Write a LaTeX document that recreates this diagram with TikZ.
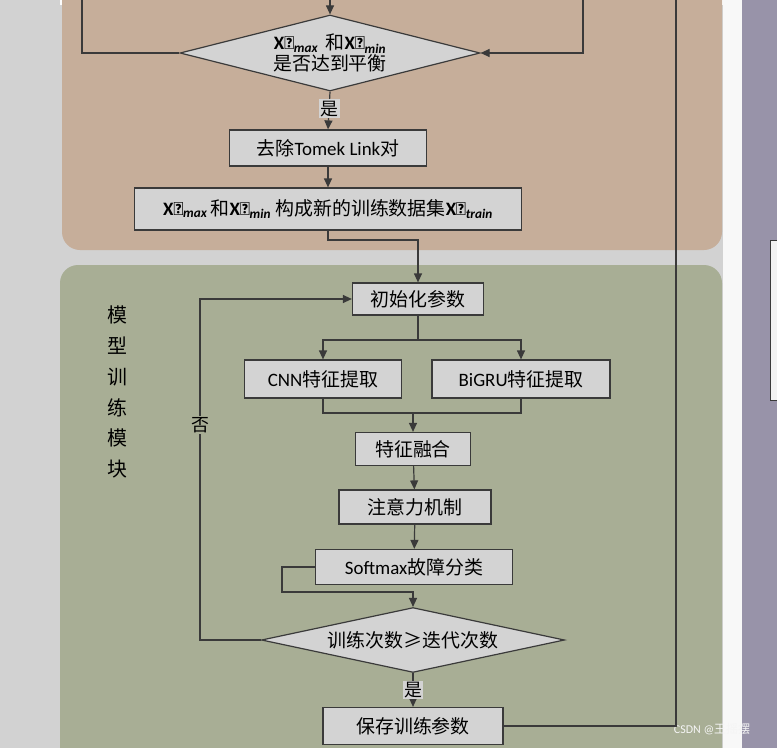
\documentclass[tikz,border=0pt]{standalone}
\usepackage{amsmath}
\usepackage{fontspec}
\setmainfont{Carlito}
\newfontfamily\cjk{Noto Sans CJK SC}
\usetikzlibrary{shapes.geometric,arrows.meta}
\definecolor{bgg}{HTML}{D2D2D2}
\definecolor{orp}{HTML}{C6AE9A}
\definecolor{grp}{HTML}{A8AE95}
\definecolor{pur}{HTML}{9893A9}
\definecolor{boxf}{HTML}{D3D3D3}
\definecolor{ln}{HTML}{3A3A3A}
\newcommand{\mX}[1]{\textbf{\^{X}}\textsubscript{\textbf{\textit{#1}}}}
\begin{document}
\begin{tikzpicture}[x=1bp,y=-1bp,
 box/.style={draw=ln,line width=1.2bp,fill=boxf,inner sep=0pt,font=\fontsize{19}{22}\selectfont},
 dia/.style={diamond,aspect=3.6,draw=ln,line width=1.2bp,fill=boxf,inner sep=0pt,font=\fontsize{19}{22}\selectfont},
 con/.style={draw=ln,line width=1.2bp},
 arr/.style={con,-{Triangle[length=9bp,width=8bp]}},
 lab/.style={fill=boxf,inner sep=1.5bp,font=\cjk\fontsize{18}{20}\selectfont}]
\useasboundingbox (0,0) rectangle (777,748);
\fill[bgg] (0,0) rectangle (777,748);
\fill[white!95!bgg] (60,0) rectangle (742,5);
\fill[pur] (742,0) rectangle (777,748);
\fill[white!85!bgg] (723,0) rectangle (742,748);
\draw[ln,fill=white!90!gray] (770,240) rectangle (790,400);
\fill[orp,rounded corners=18bp] (62,-30) rectangle (722,250);
\fill[grp,rounded corners=18bp] (60,265) rectangle (722,770);
% nodes
\node[dia,minimum width=300bp,minimum height=76bp] (d1) at (330,53) {};
\node[font=\fontsize{19}{22}\selectfont,align=center] (d1t) at (330,53) {\mX{max}\ \,{\cjk 和}\mX{min}\\[-1pt]{\cjk 是否达到平衡}};
\node[box,minimum width=197bp,minimum height=36bp] (tl) at (328,148) {\cjk 去除\textrm{Tomek Link}对};
\node[box,minimum width=387bp,minimum height=42bp] (xt) at (328,209) {\mX{max}\,{\cjk 和}\mX{min}\ {\cjk 构成新的训练数据集}\mX{train}};
\node[box,minimum width=131bp,minimum height=32bp] (init) at (418,299) {\cjk 初始化参数};
\node[box,minimum width=157bp,minimum height=38bp] (cnn) at (323,379) {CNN{\cjk 特征提取}};
\node[box,minimum width=178bp,minimum height=38bp] (bg) at (521,379) {BiGRU{\cjk 特征提取}};
\node[box,minimum width=115bp,minimum height=33bp] (fuse) at (413,449) {\cjk 特征融合};
\node[box,minimum width=152bp,minimum height=34bp] (att) at (415,507) {\cjk 注意力机制};
\node[box,minimum width=197bp,minimum height=35bp] (soft) at (414,567) {Softmax{\cjk 故障分类}};
\node[dia,minimum width=303bp,minimum height=64bp,font=\cjk\fontsize{19}{22}\selectfont] (d2) at (413,640) {训练次数≥迭代次数};
\node[box,minimum width=180bp,minimum height=37bp] (save) at (413,726) {\cjk 保存训练参数};
\node[font=\cjk\fontsize{20}{31}\selectfont,align=center] (side) at (117,392) {模\\型\\训\\练\\模\\块};
\node[text=white!92!gray,font=\fontsize{12}{13}\selectfont] (wm) at (712,729) {CSDN @{\cjk 王摇摆}};
% coordinates
\coordinate (tA) at (330,0); \coordinate (tL) at (82,0); \coordinate (tR) at (583,0); \coordinate (tS) at (676,0);
% connectors
\draw[arr] (tA) -- (d1.north);
\draw[con] (d1.west) -- (82,53) -- (tL);
\draw[arr] (tR) -- (583,53) -- (d1.east);
\draw[arr] (d1.south) -- (tl.north) node[lab,pos=0.45] {是};
\draw[arr] (tl) -- (xt);
\draw[arr] (xt.south) -- (328,240) -| (init.north);
\draw[arr] (init.south) -- (418,340) -| (cnn.north);
\draw[arr] (init.south) -- (418,340) -| (bg.north);
\draw[con] (cnn.south) |- (413,413);
\draw[arr] (bg.south) |- (413,413) -- (fuse.north);
\draw[arr] (fuse) -- (att);
\draw[arr] (att) -- (soft);
\draw[arr] (soft.west) -- (282,567) -- (282,592) -- (413,592) -- (d2.north);
\draw[arr] (d2.west) -- (200,640) -- (200,299) node[lab,fill=grp,pos=0.63] {否} -- (init.west);
\draw[arr] (d2.south) -- (save.north) node[lab,pos=0.5] {是};
\draw[con] (save.east) -- (676,726) -- (tS);
\end{tikzpicture}
\end{document}
